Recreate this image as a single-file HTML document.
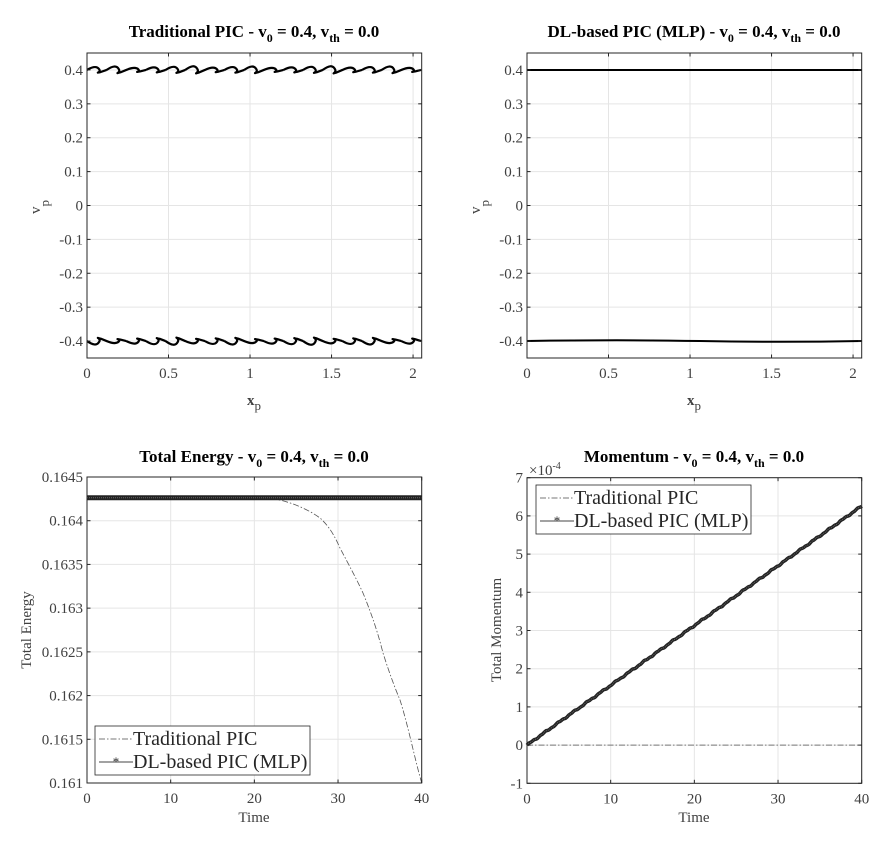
<!DOCTYPE html>
<html><head><meta charset="utf-8"><style>
body{margin:0;background:#fff}
svg{display:block}
text{font-family:"Liberation Serif",serif;fill:#262626}
.t{font-size:15px;fill:#404040}
.ti{font-size:17px;font-weight:bold;fill:#000}
.g{stroke:#e5e5e5;stroke-width:1}
.ax{fill:none;stroke:#262626;stroke-width:1}
</style></head><body>
<svg id="s" width="884" height="850" viewBox="0 0 884 850" xmlns="http://www.w3.org/2000/svg">
<rect width="884" height="850" fill="#fff"/>
<g id="root"></g>
<text class="ti" x="254" y="37" text-anchor="middle">Traditional PIC - v<tspan font-size="12" dy="5">0</tspan><tspan dy="-5"> = 0.4, v</tspan><tspan font-size="12" dy="5">th</tspan><tspan dy="-5"> = 0.0</tspan></text>
<text class="ti" x="694" y="37" text-anchor="middle">DL-based PIC (MLP) - v<tspan font-size="12" dy="5">0</tspan><tspan dy="-5"> = 0.4, v</tspan><tspan font-size="12" dy="5">th</tspan><tspan dy="-5"> = 0.0</tspan></text>
<text class="ti" x="254" y="462" text-anchor="middle">Total Energy - v<tspan font-size="12" dy="5">0</tspan><tspan dy="-5"> = 0.4, v</tspan><tspan font-size="12" dy="5">th</tspan><tspan dy="-5"> = 0.0</tspan></text>
<text class="ti" x="694" y="462" text-anchor="middle">Momentum - v<tspan font-size="12" dy="5">0</tspan><tspan dy="-5"> = 0.4, v</tspan><tspan font-size="12" dy="5">th</tspan><tspan dy="-5"> = 0.0</tspan></text>
<text class="t" x="254" y="405" text-anchor="middle" font-weight="bold" font-size="16">x<tspan font-size="13" dy="5" font-weight="normal">p</tspan></text>
<text class="t" x="694" y="405" text-anchor="middle" font-weight="bold" font-size="16">x<tspan font-size="13" dy="5" font-weight="normal">p</tspan></text>
<text class="t" transform="translate(40,207) rotate(-90)" text-anchor="middle" font-size="16">v<tspan font-size="13" dy="9">p</tspan></text>
<text class="t" transform="translate(480,207) rotate(-90)" text-anchor="middle" font-size="16">v<tspan font-size="13" dy="9">p</tspan></text>
<text class="t" x="254" y="822" text-anchor="middle" font-size="16">Time</text>
<text class="t" x="694" y="822" text-anchor="middle" font-size="16">Time</text>
<text class="t" transform="translate(31,630) rotate(-90)" text-anchor="middle" font-size="16">Total Energy</text>
<text class="t" transform="translate(501,630) rotate(-90)" text-anchor="middle" font-size="16">Total Momentum</text>
<text class="t" x="529" y="475" font-size="14">×10<tspan font-size="10" dy="-6">-4</tspan></text>
</svg>
<script>
const NS="http://www.w3.org/2000/svg",root=document.getElementById('root');
function el(t,a,p){const e=document.createElementNS(NS,t);for(const k in a)e.setAttribute(k,a[k]);(p||root).appendChild(e);return e;}
function txt(x,y,s,anc){const e=el('text',{x:x,y:y,class:'t','text-anchor':anc});e.textContent=s;}
function axes(L,R,T,B,xmin,xmax,ymin,ymax,xt,yt,xl,yl){
 const X=v=>L+(v-xmin)/(xmax-xmin)*(R-L),Y=v=>B-(v-ymin)/(ymax-ymin)*(B-T);
 xt.forEach((v,i)=>{el('line',{x1:X(v),x2:X(v),y1:T,y2:B,class:'g'});txt(X(v),B+20,xl[i],'middle');});
 yt.forEach((v,i)=>{el('line',{x1:L,x2:R,y1:Y(v),y2:Y(v),class:'g'});txt(L-4,Y(v)+5,yl[i],'end');});
 return {X,Y,draw(){el('rect',{x:L,y:T,width:R-L,height:B-T,class:'ax'});
 xt.forEach(v=>{el('line',{x1:X(v),x2:X(v),y1:B,y2:B-3.5,stroke:'#262626'});el('line',{x1:X(v),x2:X(v),y1:T,y2:T+3.5,stroke:'#262626'});});
 yt.forEach(v=>{el('line',{x1:L,x2:L+3.5,y1:Y(v),y2:Y(v),stroke:'#262626'});el('line',{x1:R,x2:R-3.5,y1:Y(v),y2:Y(v),stroke:'#262626'});});}};
}
const vt=[-0.4,-0.3,-0.2,-0.1,0,0.1,0.2,0.3,0.4],vl=vt.map(v=>v==0?'0':v.toFixed(1));
let a=axes(87,421.7,53,358,0,2.053,-0.45,0.45,[0,0.5,1,1.5,2],vt,['0','0.5','1','1.5','2'],vl);
function squig(yc,dir,seed){let d='';let n=17;for(let k=0;k<n;k++){const x0=87+k*(334/n),w=334/n;
 let s=(k*37+seed)%7;const amp=2.5+s*0.3;
 d+=`M${x0} ${yc} C${x0+w*0.3} ${yc-dir*amp} ${x0+w*0.5} ${yc-dir*amp*1.2} ${x0+w*0.62} ${yc-dir*amp*0.2} S${x0+w*0.35} ${yc+dir*amp} ${x0+w*0.7} ${yc+dir*amp*0.6} L${x0+w} ${yc}`;}
 el('path',{d:d,fill:'none',stroke:'#000','stroke-width':2.2,'stroke-linejoin':'round'});}
squig(a.Y(0.4),1,3);squig(a.Y(-0.4),-1,5);
a.draw();
let b=axes(527,861.7,53,358,0,2.053,-0.45,0.45,[0,0.5,1,1.5,2],vt,['0','0.5','1','1.5','2'],vl);
el('path',{d:`M527 ${b.Y(0.4)} L861.7 ${b.Y(0.4)}`,stroke:'#000','stroke-width':2,fill:'none'});
el('path',{d:`M527 ${b.Y(-0.4)} Q620 ${b.Y(-0.4)-1.5} 700 ${b.Y(-0.4)} Q780 ${b.Y(-0.4)+1.5} 861.7 ${b.Y(-0.4)}`,stroke:'#000','stroke-width':2,fill:'none'});
b.draw();
const et=[0.161,0.1615,0.162,0.1625,0.163,0.1635,0.164,0.1645];
let c=axes(87,421.7,477,783,0,40,0.161,0.1645,[0,10,20,30,40],et,['0','10','20','30','40'],['0.161','0.1615','0.162','0.1625','0.163','0.1635','0.164','0.1645']);
el('path',{d:'M87 497.7 L267 497.7 C285 500 305 507 320 518 C330 527 335 537 340 548 C350 567 357 580 363 593 C372 615 378 633 383 653 C390 675 395 688 400 700 C408 725 415 760 421.7 783',fill:'none',stroke:'#555','stroke-width':0.8,'stroke-dasharray':'6 2 1.5 2'});
el('line',{x1:87,x2:421.7,y1:497.7,y2:497.7,stroke:'#222','stroke-width':5});
el('line',{x1:87,x2:421.7,y1:497.7,y2:497.7,stroke:'#666','stroke-width':1,'stroke-dasharray':'1 1'});
c.draw();
let d=axes(527,861.7,477.7,783.3,0,40,-1,7,[0,10,20,30,40],[-1,0,1,2,3,4,5,6,7],['0','10','20','30','40'],['-1','0','1','2','3','4','5','6','7']);
el('line',{x1:527,x2:861.7,y1:d.Y(0),y2:d.Y(0),stroke:'#777','stroke-width':1,'stroke-dasharray':'6 2 1.5 2'});
let p='';for(let i=0;i<=400;i++){const t=i/10;const v=t*0.1565+0.012*Math.sin(t*3.7)+0.008*Math.sin(t*9.1);p+=(i?'L':'M')+d.X(t).toFixed(1)+' '+d.Y(Math.max(0,v)).toFixed(1);}
el('path',{d:p,fill:'none',stroke:'#222','stroke-width':3.5});
el('path',{d:p,fill:'none',stroke:'#666','stroke-width':1,'stroke-dasharray':'1 1'});
d.draw();
function legend(x,y,w,h){el('rect',{x:x,y:y,width:w,height:h,fill:'#fff',stroke:'#262626','stroke-width':0.8});
 el('line',{x1:x+4,x2:x+38,y1:y+13,y2:y+13,stroke:'#777','stroke-dasharray':'6 2 1.5 2'});
 el('line',{x1:x+4,x2:x+38,y1:y+36,y2:y+36,stroke:'#444','stroke-width':1});
 const s=el('text',{x:x+21,y:y+40,'text-anchor':'middle','font-size':'13',fill:'#222'});s.textContent='*';
 const a1=el('text',{x:x+38,y:y+19,'font-size':'20',fill:'#000'});a1.textContent='Traditional PIC';
 const a2=el('text',{x:x+38,y:y+42,'font-size':'20',fill:'#000'});a2.textContent='DL-based PIC (MLP)';}
legend(95,726,215,49);legend(536,485,215,49);
</script>
</body></html>
